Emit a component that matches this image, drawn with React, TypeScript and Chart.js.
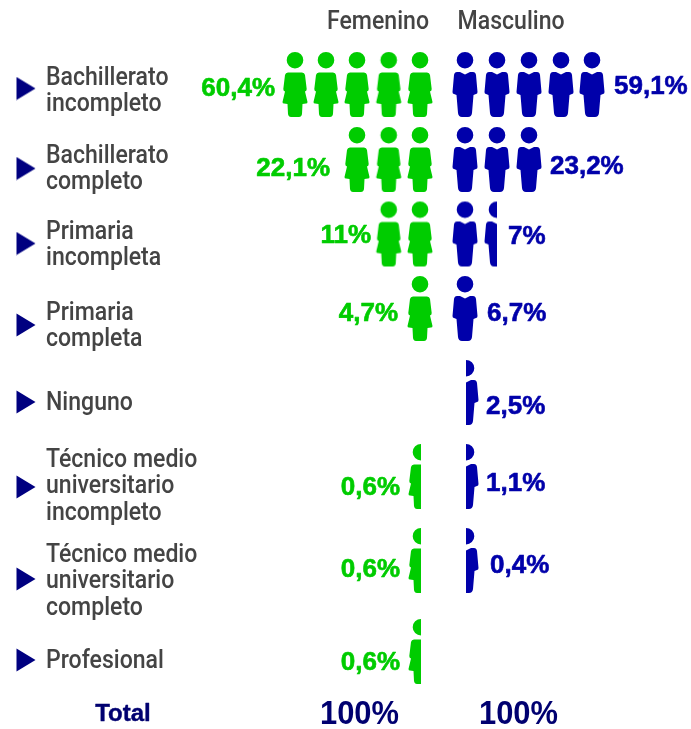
import React, { useEffect, useRef } from "react";
import { Chart, registerables } from "chart.js";

Chart.register(...registerables);

const categories: string[][] = [
  ["Bachillerato", "incompleto"],
  ["Bachillerato", "completo"],
  ["Primaria", "incompleta"],
  ["Primaria", "completa"],
  ["Ninguno"],
  ["Técnico medio", "universitario", "incompleto"],
  ["Técnico medio", "universitario", "completo"],
  ["Profesional"],
];
const seriesNames = ["Femenino", "Masculino"];
const femaleIcons = [5, 3, 2, 1, 0, 0.5, 0.5, 0.5];
const maleIcons = [5, 3, 1.5, 1, 0.5, 0.5, 0.5, 0];
const femaleLabels = ["60,4%", "22,1%", "11%", "4,7%", "", "0,6%", "0,6%", "0,6%"];
const maleLabels = ["59,1%", "23,2%", "7%", "6,7%", "2,5%", "1,1%", "0,4%", ""];
const totalLabel = "Total";
const totals = ["100%", "100%"];

// layout, in the pixel-like units of the two linear scales
const femaleColumns = [420, 388.7, 357, 326, 295];
const maleColumns = [465, 497, 529, 561, 592];
const femaleHalfColumn = 421;
const maleHalfColumn = 466;
const iconRows = [85, 160, 234.5, 309, 393, 477, 561, 652];
const labelRows = [92, 170, 246, 327, 404, 487, 582, 662];
const markerRows = [88.5, 168.5, 243.5, 325, 402, 487, 579, 660];
const femaleLabelRight = [275, 330, 371, 398, 0, 400, 400, 400];
const femaleLabelRows = [89, 169, 236, 314, 0, 488, 570, 663];
const maleLabelLeft = [614, 550, 508, 487, 486, 486, 490, 0];
const maleLabelRows = [87, 167, 237, 314, 407, 484, 566, 0];

const GREEN = "#00cc00";
const BLUE = "#0000aa";
const NAVY = "#000070";
const GREY = "#444444";
const NARROW = 'Roboto, "Liberation Sans", sans-serif';
const WIDE = '"Liberation Sans", sans-serif';

const W = 28;
const H = 68;

function bodyPathWoman(c: CanvasRenderingContext2D, cx: number) {
  const t = 1;
  c.beginPath();
  c.arc(cx, t + 8.2, 8.3, 0, Math.PI * 2);
  c.closePath();
  c.moveTo(cx - 7, t + 20.5);
  c.lineTo(cx + 7, t + 20.5);
  c.quadraticCurveTo(cx + 9.5, t + 20.5, cx + 10, t + 23);
  c.lineTo(cx + 11.7, t + 37);
  c.quadraticCurveTo(cx + 11.7, t + 39, cx + 10, t + 39.5);
  c.lineTo(cx + 12.5, t + 50);
  c.quadraticCurveTo(cx + 12.5, t + 51.5, cx + 11, t + 51.5);
  c.lineTo(cx + 7.5, t + 52);
  c.lineTo(cx + 7, t + 62);
  c.quadraticCurveTo(cx + 6.5, t + 65, cx + 4, t + 65);
  c.lineTo(cx - 4, t + 65);
  c.quadraticCurveTo(cx - 6.5, t + 65, cx - 7, t + 62);
  c.lineTo(cx - 7.5, t + 52);
  c.lineTo(cx - 11, t + 51.5);
  c.quadraticCurveTo(cx - 12.5, t + 51.5, cx - 12.5, t + 50);
  c.lineTo(cx - 10, t + 39.5);
  c.quadraticCurveTo(cx - 11.7, t + 39, cx - 11.7, t + 37);
  c.lineTo(cx - 10, t + 23);
  c.quadraticCurveTo(cx - 9.5, t + 20.5, cx - 7, t + 20.5);
  c.closePath();
}

function bodyPathMan(c: CanvasRenderingContext2D, cx: number) {
  const t = 1;
  c.beginPath();
  c.arc(cx, t + 8.2, 8.3, 0, Math.PI * 2);
  c.closePath();
  c.moveTo(cx, t + 22.5);
  c.lineTo(cx + 5, t + 20);
  c.lineTo(cx + 8, t + 20);
  c.quadraticCurveTo(cx + 10.5, t + 20, cx + 11, t + 23);
  c.lineTo(cx + 12.5, t + 40);
  c.quadraticCurveTo(cx + 12.5, t + 42, cx + 11, t + 42);
  c.lineTo(cx + 8.5, t + 43);
  c.lineTo(cx + 7, t + 61);
  c.quadraticCurveTo(cx + 6.5, t + 65, cx + 3, t + 65);
  c.lineTo(cx - 3, t + 65);
  c.quadraticCurveTo(cx - 6.5, t + 65, cx - 7, t + 61);
  c.lineTo(cx - 8.5, t + 43);
  c.lineTo(cx - 11, t + 42);
  c.quadraticCurveTo(cx - 12.5, t + 42, cx - 12.5, t + 40);
  c.lineTo(cx - 11, t + 23);
  c.quadraticCurveTo(cx - 10.5, t + 20, cx - 8, t + 20);
  c.lineTo(cx - 5, t + 20);
  c.closePath();
}

function makeIcon(kind: "f" | "m", color: string, part: "all" | "left" | "right") {
  const cv = document.createElement("canvas");
  cv.width = W;
  cv.height = H;
  const c = cv.getContext("2d")!;
  if (part !== "all") {
    c.beginPath();
    if (part === "left") c.rect(0, 0, W / 2, H);
    else c.rect(W / 2, 0, W / 2, H);
    c.clip();
  }
  if (kind === "f") bodyPathWoman(c, W / 2);
  else bodyPathMan(c, W / 2);
  c.fillStyle = color;
  c.fill();
  return cv;
}

function makeMarker() {
  const cv = document.createElement("canvas");
  cv.width = 20;
  cv.height = 24;
  const c = cv.getContext("2d")!;
  c.beginPath();
  c.moveTo(0.5, 0.5);
  c.lineTo(19.5, 12);
  c.lineTo(0.5, 23.5);
  c.closePath();
  c.fillStyle = "#000080";
  c.fill();
  return cv;
}

type Pt = { x: number; y: number; style: HTMLCanvasElement };

function iconPoints(
  counts: number[],
  columns: number[],
  firstHalfColumn: number,
  full: HTMLCanvasElement,
  half: (col: number) => HTMLCanvasElement,
): Pt[] {
  const pts: Pt[] = [];
  counts.forEach((n, row) => {
    for (let i = 0; i < Math.ceil(n); i++) {
      const isHalf = n - i < 1;
      const x = isHalf && i === 0 ? firstHalfColumn : columns[i];
      pts.push({ x, y: iconRows[row], style: isHalf ? half(i) : full });
    }
  });
  return pts;
}

export default function App() {
  const ref = useRef<HTMLCanvasElement>(null);
  useEffect(() => {
    const fFull = makeIcon("f", GREEN, "all");
    const fHalf = makeIcon("f", GREEN, "left");
    const mFull = makeIcon("m", BLUE, "all");
    const mLeft = makeIcon("m", BLUE, "left");
    const mRight = makeIcon("m", BLUE, "right");
    const marker = makeMarker();

    const textPlugin = {
      id: "pictogramText",
      afterDatasetsDraw(chart: any) {
        const { ctx, scales } = chart;
        const X = (v: number) => scales.x.getPixelForValue(v);
        const Y = (v: number) => scales.y.getPixelForValue(v);
        const squeezed = (s: string, x: number, y: number, k: number, stroke = 0) => {
          const w = ctx.measureText(s).width * k;
          if (stroke) {
            ctx.strokeStyle = ctx.fillStyle;
            ctx.lineWidth = stroke;
            ctx.lineJoin = "round";
            ctx.strokeText(s, x, y, w);
          }
          ctx.fillText(s, x, y, w);
        };
        ctx.save();
        ctx.textBaseline = "middle";

        ctx.fillStyle = GREY;
        ctx.textAlign = "left";
        ctx.font = `500 26px ${NARROW}`;
        const headK = 102 / ctx.measureText(seriesNames[0]).width;
        squeezed(seriesNames[0], X(327), Y(22.5), headK);
        squeezed(seriesNames[1], X(457.5), Y(22.5), headK);

        ctx.font = `500 25px ${NARROW}`;
        const catK = 122.5 / ctx.measureText("Bachillerato").width;
        categories.forEach((lines, r) => {
          const lh = 26.3;
          lines.forEach((line, i) => {
            squeezed(line, X(46), Y(labelRows[r] + (i - (lines.length - 1) / 2) * lh), catK);
          });
        });

        ctx.font = `bold 26px ${WIDE}`;
        ctx.fillStyle = GREEN;
        ctx.textAlign = "right";
        femaleLabels.forEach((s, r) => {
          if (s) squeezed(s, X(femaleLabelRight[r]), Y(femaleLabelRows[r]), 1, 0.6);
        });
        ctx.fillStyle = BLUE;
        ctx.textAlign = "left";
        maleLabels.forEach((s, r) => {
          if (s) squeezed(s, X(maleLabelLeft[r]), Y(maleLabelRows[r]), 1, 0.6);
        });

        ctx.fillStyle = NAVY;
        ctx.textAlign = "center";
        ctx.font = `bold 24px ${WIDE}`;
        squeezed(totalLabel, X(123), Y(714.5), 58 / ctx.measureText(totalLabel).width, 0.4);
        ctx.font = `bold 33px ${WIDE}`;
        const totK = 79 / ctx.measureText(totals[0]).width;
        squeezed(totals[0], X(359.5), Y(714.5), totK);
        squeezed(totals[1], X(518.5), Y(714.5), totK);
        ctx.restore();
      },
    };

    const pointStyle = (c: any) => c.raw?.style;
    const chart = new Chart(ref.current!, {
      type: "scatter",
      data: {
        datasets: [
          {
            label: "Femenino",
            data: iconPoints(femaleIcons, femaleColumns, femaleHalfColumn, fFull, () => fHalf) as any,
            pointStyle,
            pointRadius: 14,
            clip: false,
          },
          {
            label: "Masculino",
            data: iconPoints(maleIcons, maleColumns, maleHalfColumn, mFull, (col) => (col === 0 ? mRight : mLeft)) as any,
            pointStyle,
            pointRadius: 14,
            clip: false,
          },
          {
            label: "Nivel",
            data: markerRows.map((y) => ({ x: 26, y })),
            pointStyle: marker as any,
            pointRadius: 10,
            clip: false,
          },
        ],
      },
      options: {
        animation: false,
        responsive: false,
        devicePixelRatio: 1,
        layout: { padding: 0, autoPadding: false },
        plugins: { legend: { display: false }, tooltip: { enabled: false } },
        scales: {
          x: { type: "linear", display: false, min: 0, max: 691 },
          y: { type: "linear", display: false, min: 0, max: 729, reverse: true },
        },
      },
      plugins: [textPlugin as any],
    } as any);
    return () => chart.destroy();
  }, []);
  return (
    <div style={{ position: "absolute", left: 0, top: 0, width: 691, height: 729, background: "#fff" }}>
      <canvas ref={ref} width={691} height={729} style={{ display: "block" }} />
    </div>
  );
}
